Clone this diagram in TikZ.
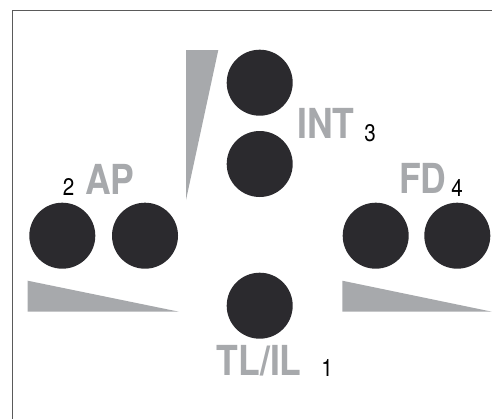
\documentclass[tikz,border=0pt]{standalone}
\usepackage{fontspec}
\usepackage{tikz}
\newfontfamily\lblfont{TeX Gyre Heros}[FakeStretch=0.86]
\definecolor{dotgray}{HTML}{2B2A2E}
\definecolor{lightgray}{HTML}{A7A9AC}
\definecolor{framegray}{HTML}{5A5A5A}

\begin{document}
\begin{tikzpicture}[
  x=0.75pt, y=-0.75pt,
  dot/.style={circle, fill=dotgray, minimum size=49.5pt, inner sep=0pt},
  wedge/.style={fill=lightgray},
  lbl/.style={anchor=base west, inner sep=0pt, text=lightgray,
              font=\lblfont\fontsize{31}{34}\selectfont\bfseries},
  num/.style={anchor=base west, inner sep=0pt, text=black,
              font=\lblfont\fontsize{18}{20}\selectfont},
]
\useasboundingbox (0,0) rectangle (492,419);
\draw[framegray, line width=0.75pt] (12.3,419) -- (12.3,10.7) -- (492,10.7);
% wedges
\fill[wedge] (186,50) -- (218.3,50) -- (186,200) -- cycle;
\fill[wedge] (27.7,280.7) -- (179,311.7) -- (27.7,311.7) -- cycle;
\fill[wedge] (342.3,280.7) -- (492,311.7) -- (342.3,311.7) -- cycle;
% dots
\node[dot] (int1) at (259.7,82.7) {};
\node[dot] (int2) at (259.7,164) {};
\node[dot] (ap1) at (62.3,235.7) {};
\node[dot] (ap2) at (145,235.7) {};
\node[dot] (fd1) at (375.7,235.7) {};
\node[dot] (fd2) at (457.3,235.7) {};
\node[dot] (tlil) at (259.7,305.7) {};
% labels
\node[lbl] (intlbl) at (297,138.5) {INT};
\node[num] (intnum) at (364,141.7) {3};
\node[lbl] (aplbl) at (85,194) {AP};
\node[num] (apnum) at (62.5,195) {2};
\node[lbl] (fdlbl) at (399,193.3) {FD};
\node[num] (fdnum) at (451,196) {4};
\node[lbl] (tllbl) at (216.5,375) {TL/IL};
\node[num] (tlnum) at (321,376.7) {1};
\end{tikzpicture}
\end{document}
